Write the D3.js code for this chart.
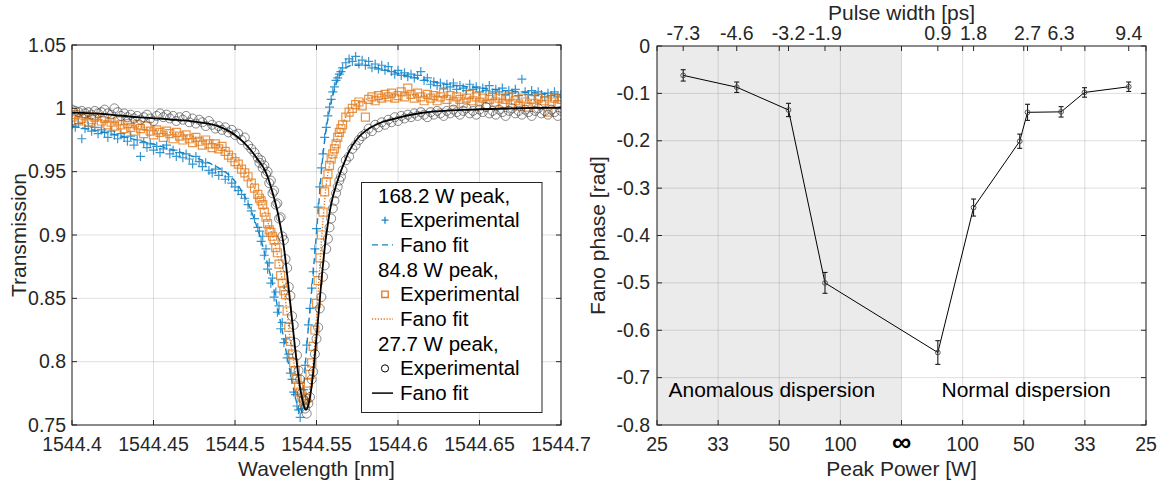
<!DOCTYPE html>
<html>
<head>
<meta charset="utf-8">
<script src="https://cdn.jsdelivr.net/npm/d3@7"></script>
<style>
  body { margin: 0; background: #fff; }
  svg text { font-family: "Liberation Sans", Arial, Helvetica, sans-serif; fill: #262626; }
</style>
</head>
<body>
<svg id="fig" width="1166" height="484"></svg>
<script>
// ---------- left panel data: transmission vs wavelength ----------
// wavelength offsets from 1544.4 nm, in pm
const wlOffsetPm = [0,2,4,6,8,10,12,14,16,18,20,22,24,26,28,30,32,34,36,38,40,42,44,46,48,50,52,54,56,58,
  60,62,64,66,68,70,72,74,76,78,80,82,84,86,88,90,92,94,96,98,100,102,104,106,108,110,112,114,
  115,116,117,118,119,120,121,122,123,124,125,126,127,128,129,130,131,132,133,134,135,136,137,138,139,140,
  141,142,143,144,145,146,147,148,149,150,151,152,153,154,155,156,157,158,159,160,161,162,163,164,165,
  166,168,170,172,174,176,178,180,182,184,186,188,190,192,194,196,198,200,202,204,206,208,210,212,214,216,218,220,222,224,
  226,228,230,232,234,236,238,240,242,244,246,248,250,252,254,256,258,260,262,264,266,268,270,272,274,276,278,280,282,284,
  286,288,290,292,294,296,298,300];

const exp168 = [0.987,0.985,0.988,0.976,0.984,0.986,0.982,0.985,0.980,0.983,
  0.981,0.977,0.982,0.979,0.976,0.980,0.977,0.974,0.978,0.971,
  0.975,0.962,0.973,0.969,0.972,0.967,0.970,0.965,0.968,0.971,
  0.964,0.967,0.962,0.965,0.961,0.964,0.960,0.956,0.962,0.958,
  0.954,0.957,0.951,0.949,0.952,0.947,0.950,0.944,0.946,0.941,
  0.938,0.935,0.932,0.929,0.924,0.919,0.913,0.906,
  0.903,0.895,0.899,0.884,0.889,0.873,0.878,0.862,0.866,0.851,
  0.855,0.839,0.844,0.826,0.831,0.815,0.818,0.803,0.806,0.791,
  0.786,0.776,0.774,0.765,0.762,0.756,0.763,0.778,0.797,0.813,
  0.829,0.842,0.858,0.871,0.889,0.905,0.922,0.938,0.953,0.964,
  0.977,0.985,0.994,1.001,1.007,1.013,1.017,1.022,1.024,1.027,1.029,
  1.032,1.036,1.039,1.037,1.041,1.035,1.038,1.034,1.037,1.032,
  1.035,1.031,1.034,1.030,1.033,1.029,1.027,1.030,1.026,1.028,
  1.025,1.027,1.024,1.026,1.029,1.022,1.024,1.019,1.021,1.018,
  1.020,1.016,1.019,1.017,1.020,1.015,1.018,1.016,1.014,1.019,
  1.015,1.017,1.013,1.016,1.014,1.018,1.012,1.015,1.013,1.016,
  1.011,1.014,1.012,1.015,1.010,1.023,1.013,1.011,1.014,1.010,
  1.013,1.011,1.009,1.012,1.010,1.013,1.009,1.011];

const exp85 = [0.993,0.995,0.990,0.992,0.994,0.989,0.991,0.993,0.988,0.990,
  0.992,0.987,0.989,0.986,0.990,0.987,0.984,0.988,0.985,0.982,
  0.987,0.984,0.980,0.986,0.982,0.979,0.983,0.981,0.977,0.982,
  0.980,0.976,0.981,0.978,0.975,0.979,0.976,0.973,0.977,0.974,
  0.971,0.975,0.972,0.969,0.972,0.968,0.970,0.966,0.963,0.961,
  0.958,0.956,0.952,0.949,0.946,0.941,0.937,0.932,
  0.929,0.927,0.924,0.918,0.914,0.909,0.904,0.902,0.899,0.896,
  0.890,0.886,0.877,0.868,0.862,0.856,0.853,0.840,0.827,0.816,
  0.806,0.799,0.793,0.786,0.781,0.776,0.772,0.769,0.767,0.771,
  0.783,0.790,0.799,0.812,0.825,0.846,0.864,0.882,0.900,0.918,
  0.934,0.942,0.948,0.955,0.960,0.964,0.968,0.972,0.977,0.981,0.984,
  0.987,0.993,0.997,1.000,1.003,1.005,1.002,0.993,1.007,1.009,
  1.006,1.010,1.008,1.011,1.009,1.012,1.008,1.010,1.013,1.009,
  1.016,1.011,1.008,1.012,1.009,1.006,1.011,1.008,1.010,1.006,
  1.009,1.012,1.007,1.010,1.005,1.009,1.007,1.004,1.008,1.011,
  1.006,1.009,1.005,1.008,1.003,1.007,1.010,1.005,1.008,1.004,
  1.007,1.009,1.004,1.006,1.002,1.008,1.005,1.001,1.007,1.004,
  1.008,1.003,1.006,0.997,1.005,1.008,1.003,1.007];

const exp28 = [0.999,0.998,0.997,0.998,0.996,0.997,0.995,0.998,0.996,0.997,
  0.999,0.996,0.995,1.000,0.997,0.994,0.996,0.993,0.995,0.992,
  0.994,0.991,0.993,0.995,0.992,0.990,0.994,0.996,0.993,0.995,
  0.992,0.994,0.990,0.993,0.991,0.994,0.989,0.992,0.988,0.991,
  0.989,0.986,0.990,0.987,0.984,0.986,0.983,0.985,0.981,0.983,
  0.979,0.980,0.975,0.977,0.971,0.968,0.965,0.961,
  0.957,0.959,0.953,0.955,0.948,0.950,0.941,0.943,0.933,0.935,
  0.924,0.925,0.913,0.914,0.899,0.896,0.881,0.874,0.859,0.852,
  0.836,0.829,0.815,0.805,0.793,0.786,0.775,0.770,0.763,0.759,
  0.767,0.772,0.786,0.792,0.806,0.818,0.827,0.842,0.851,0.867,
  0.876,0.889,0.897,0.906,0.913,0.921,0.927,0.933,0.938,0.943,0.946,
  0.951,0.959,0.962,0.968,0.971,0.975,0.978,0.980,0.984,0.982,
  0.987,0.985,0.989,0.987,0.991,0.989,0.993,0.990,0.994,0.992,
  0.995,0.993,0.996,0.994,0.997,0.995,0.993,0.997,0.995,0.998,
  0.996,0.994,0.998,0.996,0.999,0.997,0.995,0.998,1.000,0.996,
  0.998,0.995,0.999,0.997,1.001,0.996,0.998,0.995,0.999,0.997,
  0.994,0.998,1.000,0.996,0.998,0.995,0.999,0.997,0.994,0.998,
  1.000,0.996,0.998,0.995,0.999,0.997,0.994,0.998];

// Fano fits (offset pm, transmission)
const fit168Pm = [0,20,40,60,80,90,99,104,108,112,116,120,124,128,132,135,137,139,140,141,
  142,143,145,147,149,151,153,155,157,160,162.5,166.5,172,180,190,205,225,250,275,300];
const fit168T = [0.986,0.981,0.975,0.968,0.959,0.953,0.944,0.935,0.925,0.912,0.896,0.877,0.856,0.831,0.804,0.784,0.772,0.762,0.758,0.762,
  0.776,0.795,0.827,0.856,0.886,0.918,0.950,0.975,0.992,1.010,1.021,1.030,1.034,1.034,1.031,1.026,1.020,1.016,1.013,1.011];
const fit85Pm = [0,20,40,60,76,87,95,101,107,112,117,121,124.5,127.5,130,132,134,136,138,140.5,
  143,144.5,146,148,150,152,154,156,158.5,161.5,165,169,174,181,190,205,225,250,275,300];
const fit85T = [0.994,0.990,0.986,0.981,0.977,0.972,0.966,0.958,0.948,0.937,0.923,0.907,0.893,0.875,0.857,0.838,0.816,0.800,0.787,0.775,
  0.767,0.768,0.780,0.800,0.835,0.875,0.912,0.940,0.958,0.971,0.984,0.996,1.003,1.0075,1.0095,1.0105,1.0095,1.0075,1.0065,1.006];
const fit28Pm = [0,20,40,60,75,90,100,105,110,114,118,120,122,124,126,128,129.5,131,132.5,134,
  135.5,137,138.5,140,141.5,142.5,143.6,145,146.5,148,149.5,151,152.5,154,155.5,157,158.5,160,162,164,
  167,170,175,181,190,200,215,246,300];
const fit28T = [0.9966,0.9955,0.9930,0.9912,0.9895,0.9858,0.9790,0.9735,0.9665,0.9595,0.9520,0.9460,0.9380,0.9290,0.9190,0.9060,0.8950,0.8800,0.8630,0.8450,
  0.8270,0.8090,0.7930,0.7790,0.7690,0.7640,0.7620,0.7660,0.7760,0.7920,0.8120,0.8340,0.8560,0.8770,0.8950,0.9090,0.9210,0.9300,0.9390,0.9470,
  0.9570,0.9660,0.9760,0.9830,0.9890,0.9925,0.9965,0.9990,1.0005];

const wlTicks = [1544.4,1544.45,1544.5,1544.55,1544.6,1544.65,1544.7];
const wlTickLabels = ["1544.4","1544.45","1544.5","1544.55","1544.6","1544.65","1544.7"];
const trTicks = [0.75,0.8,0.85,0.9,0.95,1,1.05];
const trTickLabels = ["0.75","0.8","0.85","0.9","0.95","1","1.05"];
const legendLabels = ["168.2 W peak,","Experimental","Fano fit","84.8 W peak,","Experimental","Fano fit","27.7 W peak,","Experimental","Fano fit"];

// ---------- right panel data: Fano phase vs peak power ----------
const peakPowerW = [28.0,37.1,54.1,79.9,168.2,84.8,51.7,48.5,38.3,33.4,26.9];
const dispersionSign = [-1,-1,-1,-1,1,1,1,1,1,1,1];   // -1 anomalous, +1 normal
const fanoPhase = [-0.062,-0.087,-0.135,-0.500,-0.647,-0.341,-0.201,-0.140,-0.139,-0.098,-0.086];
const phaseErr = [0.012,0.011,0.014,0.022,0.025,0.018,0.015,0.017,0.011,0.010,0.010];
const pulseWidthLabels = ["-7.3","-4.6","-3.2","-1.9","0.9","1.8","","2.7","6.3","","9.4"];
const invPowerTicks = [-0.04,-0.03,-0.02,-0.01,0,0.01,0.02,0.03,0.04];
const powerTickLabels = ["25","33","50","100","\u221e","100","50","33","25"];
const phaseTicks = [0,-0.1,-0.2,-0.3,-0.4,-0.5,-0.6,-0.7,-0.8];
const phaseTickLabels = ["0","-0.1","-0.2","-0.3","-0.4","-0.5","-0.6","-0.7","-0.8"];

// ---------- drawing ----------
const svg = d3.select("#fig");
const axisColor = "#262626";
const gridColor = "rgba(38,38,38,0.15)";
const blue = "#1384c8", orange = "#e27a1c";
const tickFont = "19.5px", labelFont = "21px";

function boxAxes(x0, x1, y0, y1, xs, ys, xv, yv, tlen) {
  const g = svg.append("g");
  g.append("rect").attr("x", x0).attr("y", y0).attr("width", x1 - x0).attr("height", y1 - y0)
    .attr("fill", "none").attr("stroke", axisColor).attr("stroke-width", 1);
  g.selectAll(".tb").data(xv).enter().append("line")
    .attr("x1", d => xs(d)).attr("x2", d => xs(d)).attr("y1", y1).attr("y2", y1 - tlen)
    .attr("stroke", axisColor);
  g.selectAll(".tt").data(xv).enter().append("line")
    .attr("x1", d => xs(d)).attr("x2", d => xs(d)).attr("y1", y0).attr("y2", y0 + tlen)
    .attr("stroke", axisColor);
  g.selectAll(".tl").data(yv).enter().append("line")
    .attr("x1", x0).attr("x2", x0 + tlen).attr("y1", d => ys(d)).attr("y2", d => ys(d))
    .attr("stroke", axisColor);
  g.selectAll(".tr").data(yv).enter().append("line")
    .attr("x1", x1).attr("x2", x1 - tlen).attr("y1", d => ys(d)).attr("y2", d => ys(d))
    .attr("stroke", axisColor);
  return g;
}

function grid(x0, x1, y0, y1, xs, ys, xv, yv) {
  const g = svg.append("g");
  g.selectAll(".gx").data(xv).enter().append("line")
    .attr("x1", d => xs(d)).attr("x2", d => xs(d)).attr("y1", y0).attr("y2", y1)
    .attr("stroke", gridColor);
  g.selectAll(".gy").data(yv).enter().append("line")
    .attr("x1", x0).attr("x2", x1).attr("y1", d => ys(d)).attr("y2", d => ys(d))
    .attr("stroke", gridColor);
}

// ===== left panel =====
const L = { x0: 72, x1: 561, y0: 45, y1: 425 };
const xL = d3.scaleLinear().domain([1544.4, 1544.7]).range([L.x0, L.x1]);
const yL = d3.scaleLinear().domain([0.75, 1.05]).range([L.y1, L.y0]);
const wl = wlOffsetPm.map(d => 1544.4 + d / 1000);

grid(L.x0, L.x1, L.y0, L.y1, xL, yL, wlTicks, trTicks);

svg.append("clipPath").attr("id", "clipL").append("rect")
  .attr("x", L.x0).attr("y", L.y0).attr("width", L.x1 - L.x0).attr("height", L.y1 - L.y0);
const plotL = svg.append("g").attr("clip-path", "url(#clipL)");

const fitLine = d3.line().x(d => xL(1544.4 + d[0] / 1000)).y(d => yL(d[1])).curve(d3.curveMonotoneX);
const plusPath = "M-4.5,0H4.5M0,-4.5V4.5";
const sqPath = "M-4,-4H4V4H-4Z";

// 168.2 W
plotL.append("g").selectAll("path").data(exp168).enter().append("path")
  .attr("d", plusPath)
  .attr("transform", (d, i) => `translate(${xL(wl[i])},${yL(d)})`)
  .attr("stroke", blue).attr("stroke-width", 1.2).attr("stroke-opacity", 0.85).attr("fill", "none");
plotL.append("path").datum(fit168Pm.map((d, i) => [d, fit168T[i]]))
  .attr("d", fitLine).attr("fill", "none").attr("stroke", blue).attr("stroke-width", 1.4)
  .attr("stroke-dasharray", "6,4");

// 84.8 W
plotL.append("g").selectAll("path").data(exp85).enter().append("path")
  .attr("d", sqPath)
  .attr("transform", (d, i) => `translate(${xL(wl[i])},${yL(d)})`)
  .attr("stroke", orange).attr("stroke-width", 1.2).attr("stroke-opacity", 0.8).attr("fill", "none");
plotL.append("path").datum(fit85Pm.map((d, i) => [d, fit85T[i]]))
  .attr("d", fitLine).attr("fill", "none").attr("stroke", orange).attr("stroke-width", 1.4)
  .attr("stroke-dasharray", "1.3,1.6");

// 27.7 W
plotL.append("g").selectAll("circle").data(exp28).enter().append("circle")
  .attr("cx", (d, i) => xL(wl[i])).attr("cy", d => yL(d)).attr("r", 4.5)
  .attr("stroke", "#3a3a3a").attr("stroke-width", 0.8).attr("stroke-opacity", 0.75).attr("fill", "none");
plotL.append("path").datum(fit28Pm.map((d, i) => [d, fit28T[i]]))
  .attr("d", fitLine).attr("fill", "none").attr("stroke", "#000").attr("stroke-width", 1.8);

boxAxes(L.x0, L.x1, L.y0, L.y1, xL, yL, wlTicks, trTicks, 5);

svg.append("g").selectAll("text").data(wlTicks).enter().append("text")
  .attr("x", d => xL(d)).attr("y", L.y1 + 26).attr("text-anchor", "middle")
  .style("font-size", tickFont).text((d, i) => wlTickLabels[i]);
svg.append("g").selectAll("text").data(trTicks).enter().append("text")
  .attr("x", L.x0 - 6).attr("y", d => yL(d) + 6.5).attr("text-anchor", "end")
  .style("font-size", tickFont).text((d, i) => trTickLabels[i]);
svg.append("text").attr("x", (L.x0 + L.x1) / 2).attr("y", 476).attr("text-anchor", "middle")
  .style("font-size", labelFont).text("Wavelength [nm]");
svg.append("text").attr("transform", `translate(26,${(L.y0 + L.y1) / 2}) rotate(-90)`)
  .attr("text-anchor", "middle").style("font-size", labelFont).text("Transmission");

// legend
const leg = svg.append("g");
leg.append("rect").attr("x", 361.5).attr("y", 182.5).attr("width", 180.5).attr("height", 230)
  .attr("fill", "#fff").attr("stroke", axisColor).attr("stroke-width", 1);
const rowY = i => 195.5 + i * 24.7;
leg.selectAll("text").data(legendLabels).enter().append("text")
  .attr("x", (d, i) => i % 3 === 0 ? 378 : 400).attr("y", (d, i) => rowY(i) + 7)
  .style("font-size", "20.5px").style("fill", "#000").text(d => d);
leg.append("path").attr("d", "M-3.5,0H3.5M0,-3.5V3.5").attr("transform", `translate(385,${rowY(1)})`)
  .attr("stroke", blue).attr("stroke-width", 1.3);
leg.append("line").attr("x1", 372).attr("x2", 393).attr("y1", rowY(2)).attr("y2", rowY(2))
  .attr("stroke", blue).attr("stroke-width", 1.4).attr("stroke-dasharray", "6,4");
leg.append("path").attr("d", "M-3.2,-3.2H3.2V3.2H-3.2Z").attr("transform", `translate(385,${rowY(4)})`)
  .attr("stroke", orange).attr("stroke-width", 1.3).attr("fill", "none");
leg.append("line").attr("x1", 372).attr("x2", 393).attr("y1", rowY(5)).attr("y2", rowY(5))
  .attr("stroke", orange).attr("stroke-width", 1.4).attr("stroke-dasharray", "1.3,1.6");
leg.append("circle").attr("cx", 385).attr("cy", rowY(7)).attr("r", 3.6)
  .attr("stroke", "#000").attr("stroke-width", 1).attr("fill", "none");
leg.append("line").attr("x1", 372).attr("x2", 393).attr("y1", rowY(8)).attr("y2", rowY(8))
  .attr("stroke", "#000").attr("stroke-width", 1.5);

// ===== right panel =====
const R = { x0: 657, x1: 1146, y0: 46, y1: 425 };
const xR = d3.scaleLinear().domain([-0.04, 0.04]).range([R.x0, R.x1]);
const yR = d3.scaleLinear().domain([-0.8, 0]).range([R.y1, R.y0]);

svg.append("rect").attr("x", xR(-0.04)).attr("y", R.y0).attr("width", xR(0) - xR(-0.04))
  .attr("height", R.y1 - R.y0).attr("fill", "#ebebeb");
grid(R.x0, R.x1, R.y0, R.y1, xR, yR, invPowerTicks, phaseTicks);

const pts = peakPowerW.map((p, i) => ({
  x: xR(dispersionSign[i] / p), y: fanoPhase[i], e: phaseErr[i]
}));
svg.append("path").datum(pts)
  .attr("d", d3.line().x(d => d.x).y(d => yR(d.y)))
  .attr("fill", "none").attr("stroke", "#000").attr("stroke-width", 1);
const eb = svg.append("g").attr("stroke", "#1a1a1a").attr("stroke-width", 1.1);
eb.selectAll(".v").data(pts).enter().append("line")
  .attr("x1", d => d.x).attr("x2", d => d.x).attr("y1", d => yR(d.y - d.e)).attr("y2", d => yR(d.y + d.e));
eb.selectAll(".c1").data(pts).enter().append("line")
  .attr("x1", d => d.x - 2.5).attr("x2", d => d.x + 2.5).attr("y1", d => yR(d.y - d.e)).attr("y2", d => yR(d.y - d.e));
eb.selectAll(".c2").data(pts).enter().append("line")
  .attr("x1", d => d.x - 2.5).attr("x2", d => d.x + 2.5).attr("y1", d => yR(d.y + d.e)).attr("y2", d => yR(d.y + d.e));
svg.append("g").selectAll("circle").data(pts).enter().append("circle")
  .attr("cx", d => d.x).attr("cy", d => yR(d.y)).attr("r", 2.4)
  .attr("fill", "none").attr("stroke", "#444").attr("stroke-width", 0.9);

svg.append("text").attr("x", 668.5).attr("y", 397).style("font-size", labelFont).style("fill", "#000")
  .text("Anomalous dispersion");
svg.append("text").attr("x", 941.5).attr("y", 397).style("font-size", labelFont).style("fill", "#000")
  .text("Normal dispersion");

boxAxes(R.x0, R.x1, R.y0, R.y1, xR, yR, invPowerTicks, phaseTicks, 5);

// top pulse-width ticks at the measured points
const topIdx = pulseWidthLabels.map((d, i) => i).filter(i => pulseWidthLabels[i] !== "");
svg.append("g").selectAll("line").data(topIdx).enter().append("line")
  .attr("x1", i => pts[i].x).attr("x2", i => pts[i].x).attr("y1", R.y0).attr("y2", R.y0 + 5)
  .attr("stroke", axisColor);
svg.append("g").selectAll("text").data(topIdx).enter().append("text")
  .attr("x", i => pts[i].x).attr("y", 40).attr("text-anchor", "middle")
  .style("font-size", tickFont).text(i => pulseWidthLabels[i]);

svg.append("g").selectAll("text").data(invPowerTicks).enter().append("text")
  .attr("x", d => xR(d)).attr("y", R.y1 + 26).attr("text-anchor", "middle")
  .style("font-size", (d, i) => powerTickLabels[i] === "\u221e" ? "27px" : tickFont)
  .style("font-weight", (d, i) => powerTickLabels[i] === "\u221e" ? "bold" : null)
  .style("fill", (d, i) => powerTickLabels[i] === "\u221e" ? "#000" : null)
  .text((d, i) => powerTickLabels[i]);
svg.append("g").selectAll("text").data(phaseTicks).enter().append("text")
  .attr("x", R.x0 - 7).attr("y", d => yR(d) + 6.5).attr("text-anchor", "end")
  .style("font-size", tickFont).text((d, i) => phaseTickLabels[i]);
svg.append("text").attr("x", (R.x0 + R.x1) / 2).attr("y", 476).attr("text-anchor", "middle")
  .style("font-size", labelFont).text("Peak Power [W]");
svg.append("text").attr("x", (R.x0 + R.x1) / 2).attr("y", 20).attr("text-anchor", "middle")
  .style("font-size", labelFont).text("Pulse width [ps]");
svg.append("text").attr("transform", `translate(605,${(R.y0 + R.y1) / 2}) rotate(-90)`)
  .attr("text-anchor", "middle").style("font-size", labelFont).text("Fano phase [rad]");
</script>
</body>
</html>
